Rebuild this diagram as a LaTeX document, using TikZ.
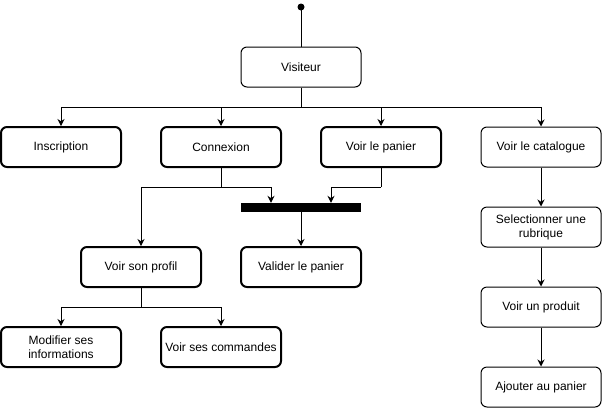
\documentclass[tikz,border=0pt]{standalone}
\usepackage{fontspec}
\setmainfont{Liberation Sans}
\usetikzlibrary{arrows.meta, positioning}

\begin{document}
\begin{tikzpicture}[x=1pt, y=-1pt, >={Stealth[length=7pt, width=7pt]},
    box/.style={draw, rounded corners=6pt, minimum width=120pt,
      minimum height=40pt, align=center, line width=1pt, inner sep=2pt,
      font=\fontsize{12}{14}\selectfont},
    boldbox/.style={box, line width=2pt},
    link/.style={line width=1pt}]
  \useasboundingbox (0,0) rectangle (602,408);
  % Start and visitor
  \fill (301,7) circle (3.5pt) coordinate (start);
  \node[box] (visiteur) at (301,67) {Visiteur};
  \coordinate (bus) at (301,107);
  % First level
  \node[boldbox] (inscription) at (61,147) {Inscription};
  \node[boldbox] (connexion) at (221,147) {Connexion};
  \node[boldbox] (panier) at (381,147) {Voir le panier};
  \node[box] (catalogue) at (541,147) {Voir le catalogue};
  % Join bar
  \node[fill, minimum width=120pt, minimum height=9pt, inner sep=0pt]
    (join) at (301,207.5) {};
  \node[boldbox] (valider) at (301,267) {Valider le panier};
  % Profile branch
  \node[boldbox] (profil) at (141,267) {Voir son profil};
  \node[boldbox] (modifier) at (61,347) {Modifier ses\\informations};
  \node[boldbox] (commandes) at (221,347) {Voir ses commandes};
  % Catalogue branch
  \node[box] (rubrique) at (541,227) {Selectionner une\\rubrique};
  \node[box] (produit) at (541,307) {Voir un produit};
  \node[box] (ajouter) at (541,387) {Ajouter au panier};
  % Connectors
  \draw[link] (start) -- (visiteur.north);
  \draw[link] (visiteur.south) -- (bus);
  \foreach \n in {inscription, connexion, panier, catalogue}
    \draw[link, ->] (bus) -| (\n.north);
  \coordinate (cfork) at (221,187);
  \coordinate (pfork) at (381,187);
  \draw[link] (connexion.south) -- (cfork);
  \draw[link, ->] (cfork) -| ([xshift=-30pt]join.north);
  \draw[link, ->] (cfork) -| (profil.north);
  \draw[link] (panier.south) -- (pfork);
  \draw[link, ->] (pfork) -| ([xshift=30pt]join.north);
  \draw[link, ->] (join.south) -- (valider.north);
  \coordinate (vfork) at (141,307);
  \draw[link] (profil.south) -- (vfork);
  \draw[link, ->] (vfork) -| (modifier.north);
  \draw[link, ->] (vfork) -| (commandes.north);
  \draw[link, ->] (catalogue) -- (rubrique);
  \draw[link, ->] (rubrique) -- (produit);
  \draw[link, ->] (produit) -- (ajouter);
\end{tikzpicture}
\end{document}
